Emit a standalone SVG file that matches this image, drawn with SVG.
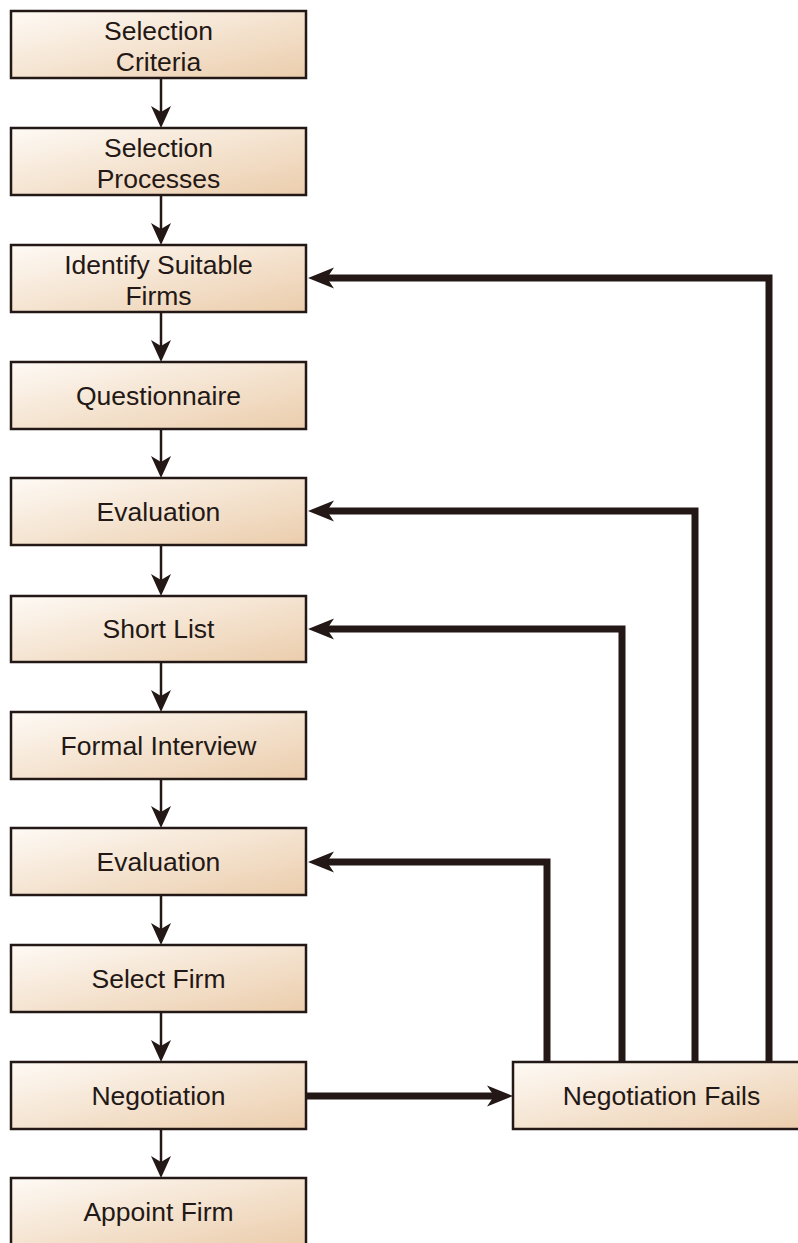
<svg xmlns="http://www.w3.org/2000/svg" width="798" height="1243" viewBox="0 0 798 1243">
  <defs>
    <linearGradient id="boxFill" x1="0" y1="0" x2="1" y2="1">
      <stop offset="0" stop-color="#fefaf5"/>
      <stop offset="1" stop-color="#ebcdac"/>
    </linearGradient>
    <!-- small arrowhead for the main flow -->
    <marker id="headThin" markerUnits="userSpaceOnUse" markerWidth="40" markerHeight="30" viewBox="-10 -15 40 30" refX="0" refY="0" orient="auto" overflow="visible">
      <path d="M-6,-10 L16,0 L-6,10 L0,0 Z" fill="#231815"/>
    </marker>
    <!-- large arrowhead for the feedback loops -->
    <marker id="headThick" markerUnits="userSpaceOnUse" markerWidth="40" markerHeight="30" viewBox="-10 -15 40 30" refX="0" refY="0" orient="auto" overflow="visible">
      <path d="M-7,-10.5 L19,0 L-7,10.5 L0,0 Z" fill="#231815"/>
    </marker>
  </defs>
  <style>
    .box { fill: url(#boxFill); stroke: #231815; stroke-width: 2.5; }
    .label { font-family: "Liberation Sans", Arial, sans-serif; font-size: 26.5px; fill: #231815; text-anchor: middle; }
    .flow { fill: none; stroke: #231815; stroke-width: 2.5; marker-end: url(#headThin); }
    .loop { fill: none; stroke: #231815; stroke-width: 7; stroke-linejoin: miter; stroke-linecap: butt; marker-end: url(#headThick); }
  </style>

  <rect width="798" height="1243" fill="#ffffff"/>

  <g id="connectors">
    <path class="flow" d="M161,78 V112"/>
    <path class="flow" d="M161,195 V229"/>
    <path class="flow" d="M161,312 V346"/>
    <path class="flow" d="M161,429 V462"/>
    <path class="flow" d="M161,545 V580"/>
    <path class="flow" d="M161,662 V696"/>
    <path class="flow" d="M161,779 V812"/>
    <path class="flow" d="M161,895 V929"/>
    <path class="flow" d="M161,1012 V1046"/>
    <path class="flow" d="M161,1129 V1162"/>
    <path class="loop" d="M307,1096 H494"/>
    <path class="loop" d="M769,1062 V278 H327"/>
    <path class="loop" d="M695,1062 V511 H327"/>
    <path class="loop" d="M622,1062 V629 H327"/>
    <path class="loop" d="M547,1062 V862 H327"/>
  </g>

  <g id="selection-criteria">
    <rect class="box" x="11" y="11" width="295" height="67"/>
    <text class="label" x="158.5" y="40">Selection</text>
    <text class="label" x="158.5" y="71">Criteria</text>
  </g>
  <g id="selection-processes">
    <rect class="box" x="11" y="128" width="295" height="67"/>
    <text class="label" x="158.5" y="157">Selection</text>
    <text class="label" x="158.5" y="188">Processes</text>
  </g>
  <g id="identify-firms">
    <rect class="box" x="11" y="245" width="295" height="67"/>
    <text class="label" x="158.5" y="274">Identify Suitable</text>
    <text class="label" x="158.5" y="305">Firms</text>
  </g>
  <g id="questionnaire">
    <rect class="box" x="11" y="362" width="295" height="67"/>
    <text class="label" x="158.5" y="405">Questionnaire</text>
  </g>
  <g id="evaluation-1">
    <rect class="box" x="11" y="478" width="295" height="67"/>
    <text class="label" x="158.5" y="521">Evaluation</text>
  </g>
  <g id="short-list">
    <rect class="box" x="11" y="596" width="295" height="66"/>
    <text class="label" x="158.5" y="638">Short List</text>
  </g>
  <g id="formal-interview">
    <rect class="box" x="11" y="712" width="295" height="67"/>
    <text class="label" x="158.5" y="755">Formal Interview</text>
  </g>
  <g id="evaluation-2">
    <rect class="box" x="11" y="828" width="295" height="67"/>
    <text class="label" x="158.5" y="871">Evaluation</text>
  </g>
  <g id="select-firm">
    <rect class="box" x="11" y="945" width="295" height="67"/>
    <text class="label" x="158.5" y="988">Select Firm</text>
  </g>
  <g id="negotiation">
    <rect class="box" x="11" y="1062" width="295" height="67"/>
    <text class="label" x="158.5" y="1105">Negotiation</text>
  </g>
  <g id="appoint-firm">
    <rect class="box" x="11" y="1178" width="295" height="67"/>
    <text class="label" x="158.5" y="1221">Appoint Firm</text>
  </g>
  <g id="negotiation-fails">
    <rect class="box" x="513" y="1062" width="296" height="67"/>
    <text class="label" x="661.5" y="1105">Negotiation Fails</text>
  </g>
</svg>
